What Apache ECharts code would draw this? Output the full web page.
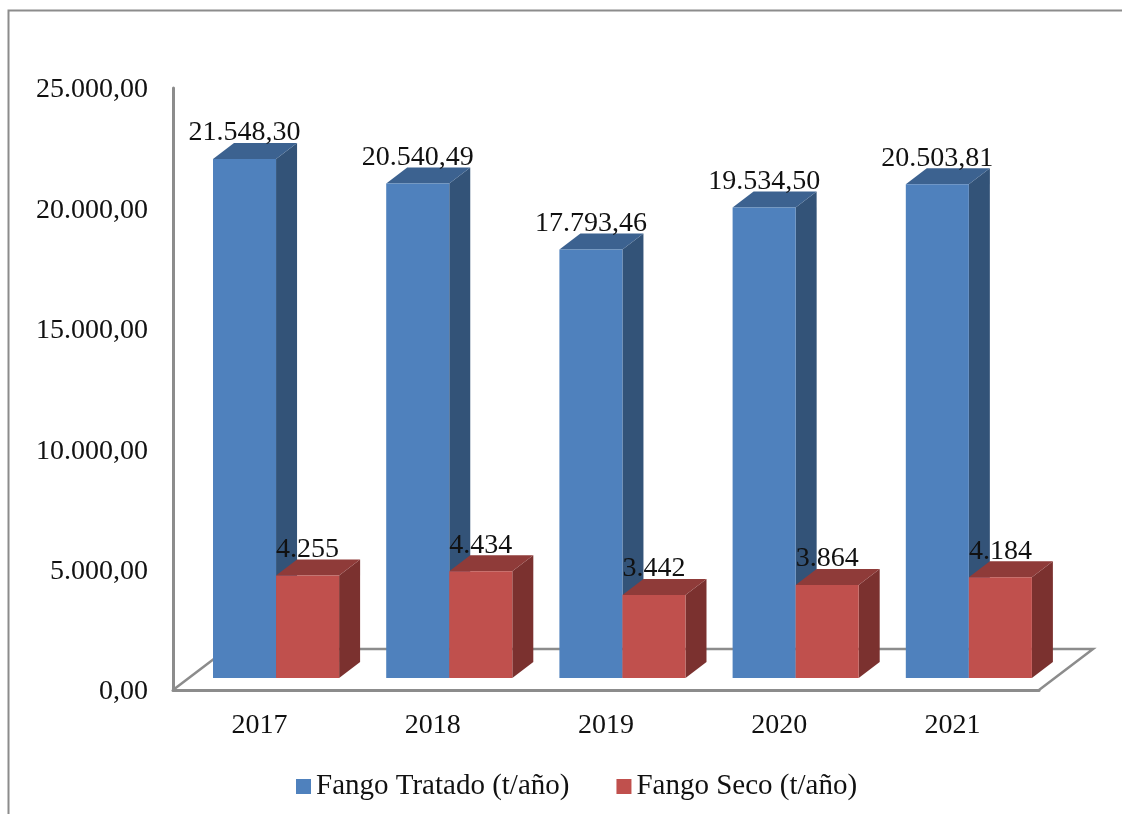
<!DOCTYPE html>
<html>
<head>
<meta charset="utf-8">
<title>Fango</title>
<script src="https://cdn.jsdelivr.net/npm/echarts@6/dist/echarts.min.js"></script>
<style>
  html, body { margin: 0; padding: 0; background: #fff; }
  #main { width: 1122px; height: 814px; }
</style>
</head>
<body>
<div id="main"></div>
<script type="text/javascript">
// datos
var years = ['2017', '2018', '2019', '2020', '2021'];
var fangoTratado = [21548.30, 20540.49, 17793.46, 19534.50, 20503.81];
var fangoSeco = [4255, 4434, 3442, 3864, 4184];
var yTicks = [0, 5000, 10000, 15000, 20000, 25000];

var FONT = '"Liberation Serif", serif';
var GREY = '#8c8c8c';

// numeros con punto de miles y coma decimal
function esNum(v, dec) {
  var parts = v.toFixed(dec).split('.');
  var s = parts[0].replace(/\B(?=(\d{3})+$)/g, '.');
  return parts[1] ? s + ',' + parts[1] : s;
}

// barra falsa 3D: frente, tapa y lateral
var DX = 21, DY = 16, LIFT = 12;
function bar3d(colors, shift, dec) {
  return function (params, api) {
    var pt = api.coord([api.value(0), api.value(1)]);
    var base = api.coord([api.value(0), 0]);
    var w = api.size([1, 0])[0] * 0.364;
    var x0 = pt[0] + shift * api.size([1, 0])[0];
    var x1 = x0 + w;
    var top = pt[1] - LIFT;
    var bot = base[1] - LIFT;
    return {
      type: 'group',
      children: [
        { type: 'polygon', shape: { points: [[x1, top], [x1 + DX, top - DY], [x1 + DX, bot - DY], [x1, bot]] }, style: { fill: colors[2] } },
        { type: 'polygon', shape: { points: [[x0, top], [x0 + DX, top - DY], [x1 + DX, top - DY], [x1, top]] }, style: { fill: colors[1] } },
        { type: 'rect', shape: { x: x0, y: top, width: w, height: bot - top }, style: { fill: colors[0] } },
        { type: 'text', z2: 10, style: {
          x: (x0 + x1) / 2, y: top - 26, text: esNum(api.value(1), dec),
          align: 'center', verticalAlign: 'middle',
          font: '28px ' + FONT, fill: '#111'
        } }
      ]
    };
  };
}

// suelo del grafico
function floor(params) {
  var c = params.coordSys;
  var x0 = c.x, x1 = c.x + c.width, y = c.y + c.height;
  return {
    type: 'polyline',
    shape: { points: [[x0, y], [x0 + 54, y - 41], [x1 + 54, y - 41], [x1, y]] },
    style: { fill: null, stroke: GREY, lineWidth: 2.5 }
  };
}

var myChart = echarts.init(document.getElementById('main'), null, { renderer: 'canvas' });

var option = {
  backgroundColor: '#fff',
  animation: false,
  graphic: [
    { type: 'polyline', shape: { points: [[8.5, 814], [8.5, 10.5], [1122, 10.5]] }, style: { fill: null, stroke: GREY, lineWidth: 2 } }
  ],
  grid: { left: 173, right: 83, top: 88, bottom: 124 },
  legend: {
    left: 296, top: 772, padding: 0, icon: 'rect', itemWidth: 15, itemHeight: 15, itemGap: 47,
    data: ['Fango Tratado (t/año)', 'Fango Seco (t/año)'],
    textStyle: { fontFamily: FONT, fontSize: 29, color: '#111' }
  },
  xAxis: {
    type: 'category', data: years,
    axisTick: { show: false },
    axisLine: { lineStyle: { color: GREY, width: 3 } },
    axisLabel: { margin: 22, fontFamily: FONT, fontSize: 28, color: '#111' }
  },
  yAxis: {
    type: 'value', min: yTicks[0], max: yTicks[5], interval: yTicks[1],
    splitLine: { show: false },
    axisLine: { show: true, lineStyle: { color: GREY, width: 3 } },
    axisLabel: {
      margin: 25, verticalAlignMaxLabel: 'middle',
      formatter: function (v) { return '{t|' + esNum(v, 2) + '}'; },
      rich: { t: { fontFamily: FONT, fontSize: 28, color: '#111', padding: [4, 0, 0, 0] } }
    }
  },
  series: [
    { type: 'custom', silent: true, renderItem: floor, data: [[0, 0]], encode: { x: 0, y: 1 } },
    {
      name: 'Fango Tratado (t/año)', type: 'custom', silent: true,
      itemStyle: { color: '#4f81bd' },
      renderItem: bar3d(['#4f81bd', '#3c6290', '#335378'], -0.269, 2),
      encode: { x: 0, y: 1 },
      data: years.map(function (y, i) { return [i, fangoTratado[i]]; })
    },
    {
      name: 'Fango Seco (t/año)', type: 'custom', silent: true,
      itemStyle: { color: '#c0504d' },
      renderItem: bar3d(['#c0504d', '#8f3b39', '#7b312f'], 0.095, 0),
      encode: { x: 0, y: 1 },
      data: years.map(function (y, i) { return [i, fangoSeco[i]]; })
    }
  ]
};

myChart.setOption(option);
</script>
</body>
</html>
